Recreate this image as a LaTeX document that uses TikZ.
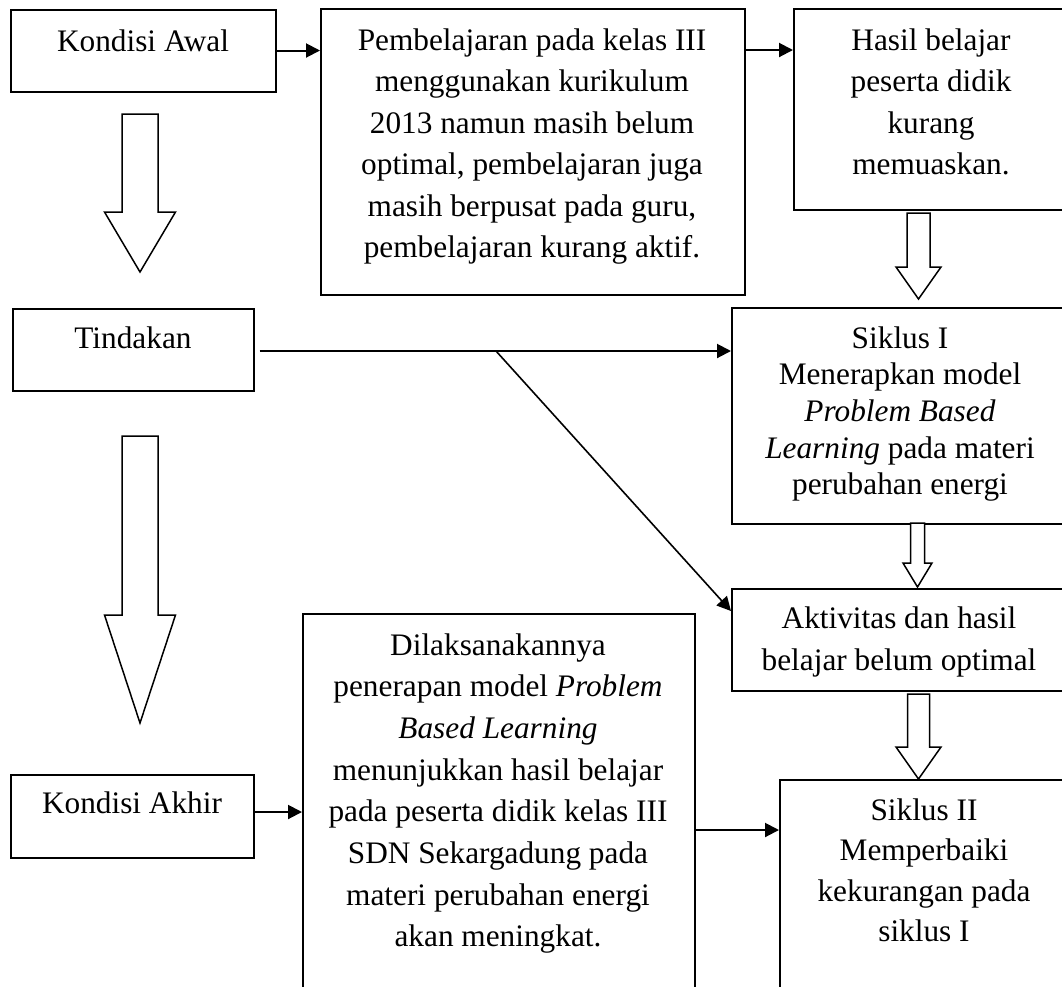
\documentclass[tikz,border=0pt]{standalone}
\usepackage{fontspec}
\setmainfont{Liberation Serif}
\usetikzlibrary{arrows.meta,calc}
\newcommand\tlines[2]{{\fontsize{31.3}{#1}\selectfont\begin{tabular}[t]{@{}c@{}}#2\end{tabular}}}
\newcommand\bigarr[6]{%
  \draw[blk] ({#1-#3},#2) -- ({#1-#3},#5) -- ({#1-#4},#5) -- (#1,#6) -- ({#1+#4},#5) -- ({#1+#3},#5) -- ({#1+#3},#2) -- cycle;}
\begin{document}
\begin{tikzpicture}[x=1pt,y=-1pt,
  box/.style={draw, line width=1.9pt, rectangle, anchor=north west, inner sep=0pt},
  txt/.style={inner sep=0pt, anchor=base, font=\fontsize{31.3}{41.5}\selectfont},
  conn/.style={line width=2pt, -{Triangle[length=14pt,width=14pt]}},
  thin conn/.style={line width=1.6pt, -{Triangle[length=14pt,width=14pt]}},
  blk/.style={draw, line width=1.5pt, fill=white, line join=miter}]
\useasboundingbox (0,0) rectangle (1062,986);
\fill[white] (0,0) rectangle (1062,986);
\begin{scope}
\clip (0,0) rectangle (1062,986);
% boxes
\node[box, minimum width=265pt, minimum height=82pt] (ka) at (10,9) {};
\node[box, minimum width=424pt, minimum height=286pt] (p) at (320,8) {};
\node[box, minimum width=276pt, minimum height=201pt] (h) at (793,8) {};
\node[box, minimum width=241pt, minimum height=82pt] (t) at (12,308) {};
\node[box, minimum width=338pt, minimum height=216pt] (s1) at (731,307) {};
\node[box, minimum width=338pt, minimum height=102pt] (ak) at (731,588) {};
\node[box, minimum width=243pt, minimum height=83pt] (kak) at (10,774) {};
\node[box, minimum width=392pt, minimum height=400pt] (d) at (302,613) {};
\node[box, minimum width=290pt, minimum height=240pt] (s2) at (779,779) {};
% texts
\node[txt] (kat) at (143,51) {Kondisi Awal};
\node[txt] (pt) at (532,50) {\tlines{41.5pt}{Pembelajaran pada kelas III\\menggunakan kurikulum\\2013 namun masih belum\\optimal, pembelajaran juga\\masih berpusat pada guru,\\pembelajaran kurang aktif.}};
\node[txt] (ht) at (931,50) {\tlines{41.5pt}{Hasil belajar\\peserta didik\\kurang\\memuaskan.}};
\node[txt] (tt) at (133,348) {Tindakan};
\node[txt] (s1t) at (900,348) {\tlines{36.7pt}{Siklus I\\Menerapkan model\\\textit{Problem Based}\\\textit{Learning} pada materi\\perubahan energi}};
\node[txt] (akt) at (899,628) {\tlines{42pt}{Aktivitas dan hasil\\belajar belum optimal}};
\node[txt] (kakt) at (132,813) {Kondisi Akhir};
\node[txt] (dt) at (498,655) {\tlines{41.7pt}{Dilaksanakannya\\penerapan model \textit{Problem}\\\textit{Based Learning}\\menunjukkan hasil belajar\\pada peserta didik kelas III\\SDN Sekargadung pada\\materi perubahan energi\\akan meningkat.}};
\node[txt] (s2t) at (924,820) {\tlines{40.6pt}{Siklus II\\Memperbaiki\\kekurangan pada\\siklus I}};
% block arrows
\bigarr{140}{114}{18}{35.5}{212}{272}
\bigarr{140}{436}{18}{35.5}{615}{723}
\bigarr{918.5}{213}{11.5}{22.5}{267}{299}
\bigarr{917.5}{523}{7}{14.5}{563}{587}
\bigarr{918.5}{694}{11}{22.5}{747}{779}
% connectors
\coordinate (a1) at ($(ka.north east)+(0,41.5)$);
\draw[conn] (a1) -- (a1 -| p.west);
\coordinate (a2) at ($(p.north east)+(0,42)$);
\draw[conn] (a2) -- (a2 -| h.west);
\coordinate (a3) at ($(t.north east)+(4.6,43)$);
\draw[conn] (a3) -- (a3 -| s1.west);
\coordinate (j) at (496,351);
\coordinate (a4) at ($(ak.north west)+(0,23)$);
\draw[thin conn] (j) -- (a4);
\coordinate (a5) at ($(kak.north east)+(0,38)$);
\draw[conn] (a5) -- (a5 -| d.west);
\coordinate (a6) at ($(d.north east)+(0,217)$);
\draw[conn] (a6) -- (a6 -| s2.west);
\end{scope}
\end{tikzpicture}
\end{document}
